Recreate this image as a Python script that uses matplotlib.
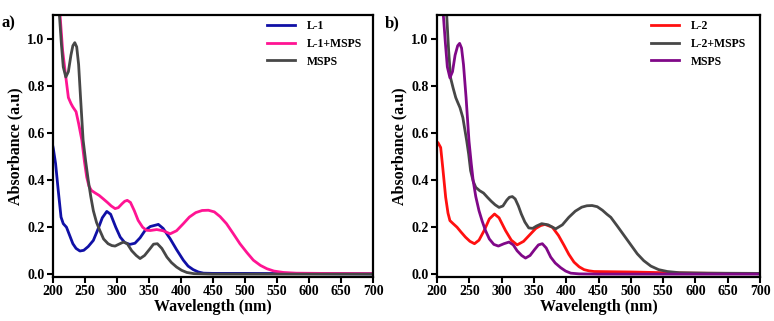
import matplotlib
matplotlib.use("Agg")
import matplotlib.pyplot as plt

# ---------------- data ----------------
# Panel a
l1_x = [200, 200.5, 204, 208, 212.5, 216, 221, 226, 231, 236, 242, 248, 255, 263, 270, 277, 284, 290,
        298, 305, 312, 320, 328, 336, 344, 352, 362, 364.5, 372, 383, 393, 403.6, 411, 419, 427, 435,
        450, 500, 600, 700]
l1_y = [0.54, 0.533, 0.47, 0.36, 0.243, 0.215, 0.20, 0.165, 0.13, 0.11, 0.099, 0.102, 0.118, 0.144,
        0.19, 0.24, 0.267, 0.255, 0.2, 0.158, 0.135, 0.127, 0.132, 0.155, 0.187, 0.203, 0.21, 0.212,
        0.195, 0.151, 0.105, 0.06, 0.035, 0.02, 0.01, 0.005, 0.004, 0.004, 0.003, 0.002]

l1m_x = [211, 215, 220, 224, 228, 231, 236, 240, 245, 249, 252.6, 256, 260, 266, 272, 278.6, 285,
         291, 297, 302, 308, 312, 316, 321, 327, 333, 340, 346, 352, 362, 372, 383, 393, 403.6, 413,
         423, 433, 442.7, 452, 461, 471, 481, 492, 503, 513, 524, 534, 545, 560, 580, 620, 700]
l1m_y = [1.1, 0.95, 0.837, 0.75, 0.725, 0.71, 0.69, 0.64, 0.57, 0.48, 0.413, 0.375, 0.356, 0.345,
         0.335, 0.32, 0.305, 0.29, 0.279, 0.283, 0.3, 0.31, 0.314, 0.305, 0.27, 0.229, 0.2, 0.187,
         0.186, 0.19, 0.185, 0.172, 0.185, 0.215, 0.243, 0.262, 0.271, 0.272, 0.265, 0.245, 0.215,
         0.175, 0.13, 0.092, 0.06, 0.038, 0.024, 0.014, 0.008, 0.005, 0.004, 0.003]

ms1_x = [210, 213, 216, 220, 224, 228, 231, 234, 237, 240, 243, 247, 251, 255, 259, 263, 268, 273,
         279, 286, 292, 297, 303, 310, 316, 323, 330, 336, 343, 351.6, 357, 363, 370, 378, 385, 393,
         401, 409, 420, 450, 700]
ms1_y = [1.1, 0.98, 0.88, 0.837, 0.86, 0.93, 0.97, 0.983, 0.965, 0.89, 0.75, 0.57, 0.48, 0.40,
         0.33, 0.27, 0.22, 0.187, 0.15, 0.13, 0.122, 0.12, 0.128, 0.137, 0.13, 0.10, 0.08, 0.067,
         0.08, 0.109, 0.128, 0.13, 0.11, 0.073, 0.05, 0.031, 0.017, 0.008, 0.003, 0.001, 0.001]

# Panel b
l2_x = [200, 201.5, 205.7, 209, 213.4, 217, 220, 225, 231, 237, 244, 251, 258, 265, 273, 281, 289,
        296, 306, 315, 324, 334, 345, 353, 360.5, 367, 378.5, 388, 396.6, 404, 412, 420, 427.6, 435,
        443, 470, 500, 550, 600, 700]
l2_y = [0.56, 0.559, 0.538, 0.45, 0.327, 0.26, 0.228, 0.215, 0.20, 0.18, 0.158, 0.14, 0.13, 0.145,
        0.186, 0.235, 0.256, 0.24, 0.186, 0.145, 0.125, 0.14, 0.172, 0.195, 0.207, 0.212, 0.20, 0.165,
        0.123, 0.085, 0.052, 0.032, 0.02, 0.015, 0.012, 0.011, 0.01, 0.007, 0.005, 0.003]

l2m_x = [215, 218, 221, 225, 229, 232, 235.6, 240, 246, 249, 252, 256, 260, 266, 272, 278, 284, 290,
         296, 302, 308, 312, 316.6, 321, 326, 330.5, 336, 342, 348, 354, 362, 372, 383.7, 394, 404,
         414, 424, 432, 440, 448, 456, 463, 469, 479, 489.5, 500, 510, 520, 531, 543, 556.5, 575,
         620, 700]
l2m_y = [1.1, 0.95, 0.834, 0.79, 0.75, 0.73, 0.707, 0.665, 0.566, 0.51, 0.44, 0.395, 0.369, 0.355,
         0.345, 0.327, 0.31, 0.295, 0.284, 0.29, 0.315, 0.327, 0.33, 0.32, 0.29, 0.256, 0.222, 0.197,
         0.195, 0.205, 0.215, 0.21, 0.193, 0.21, 0.242, 0.268, 0.285, 0.291, 0.292, 0.287, 0.272,
         0.255, 0.242, 0.205, 0.165, 0.125, 0.087, 0.058, 0.035, 0.02, 0.012, 0.007, 0.005, 0.004]

ms2_x = [209.8, 213, 216, 220, 224, 228, 232, 235, 238, 241, 245, 249.5, 253, 256, 260, 265, 270,
         275, 281, 288, 295, 303.6, 311.5, 318, 324, 331, 337, 344, 351, 357, 363, 369, 376, 383,
         391.5, 399, 407, 420, 450, 700]
ms2_y = [1.1, 0.98, 0.88, 0.834, 0.86, 0.93, 0.97, 0.98, 0.96, 0.89, 0.75, 0.566, 0.47, 0.397,
         0.33, 0.27, 0.225, 0.186, 0.15, 0.127, 0.12, 0.13, 0.137, 0.125, 0.1, 0.08, 0.069, 0.08,
         0.105, 0.125, 0.13, 0.112, 0.073, 0.048, 0.028, 0.014, 0.005, 0.002, 0.001, 0.001]

x_ticks = [200, 250, 300, 350, 400, 450, 500, 550, 600, 650, 700]
y_ticks = [0.0, 0.2, 0.4, 0.6, 0.8, 1.0]

panel_a = [("L-1", l1_x, l1_y, "#1010a6"),
           ("L-1+MSPS", l1m_x, l1m_y, "#ff1493"),
           ("MSPS", ms1_x, ms1_y, "#474747")]
panel_b = [("L-2", l2_x, l2_y, "#ff1010"),
           ("L-2+MSPS", l2m_x, l2m_y, "#474747"),
           ("MSPS", ms2_x, ms2_y, "#800888")]

# ---------------- plotting ----------------
plt.rcParams['font.family'] = ['Liberation Serif', 'DejaVu Serif']
plt.rcParams['font.weight'] = 'bold'

fig = plt.figure(figsize=(7.74, 3.21), dpi=100)
axes_pos = [[0.0685, 0.138, 0.4135, 0.815], [0.5646, 0.138, 0.4174, 0.815]]
labels = ["a)", "b)"]
label_x = [0.002, 0.497]
leg_x = [0.654, 0.647]

for pos, series, lab, lx, lgx in zip(axes_pos, [panel_a, panel_b], labels, label_x, leg_x):
    ax = fig.add_axes(pos)
    for name, xs, ys, col in series:
        ax.plot(xs, ys, color=col, lw=2.0, label=name, solid_joinstyle='round')
    ax.set_xlim(200, 700)
    ax.set_ylim(-0.01, 1.1)
    ax.set_xticks(x_ticks)
    ax.set_yticks(y_ticks)
    ax.set_xticklabels([str(t) for t in x_ticks], fontsize=10, fontweight='bold')
    ax.set_yticklabels([f"{t:.1f}" for t in y_ticks], fontsize=10, fontweight='bold')
    ax.tick_params(direction='out', length=4, width=1.5, pad=2)
    for sp in ax.spines.values():
        sp.set_linewidth(1.6)
    ax.set_xlabel("Wavelength (nm)", fontsize=11.5, fontweight='bold', labelpad=1)
    ax.set_ylabel("Absorbance (a.u)", fontsize=11.5, fontweight='bold', labelpad=3)
    leg = ax.legend(loc='upper left', frameon=False, fontsize=8.5, handlelength=2.4,
                    handletextpad=1.0, labelspacing=0.5, borderaxespad=0.0,
                    bbox_to_anchor=(lgx, 1.0))
    for t in leg.get_texts():
        t.set_fontweight('bold')
    fig.text(lx, 0.928, lab, fontsize=12, fontweight='bold', ha='left', va='center')

fig.savefig("out.png", dpi=100)
